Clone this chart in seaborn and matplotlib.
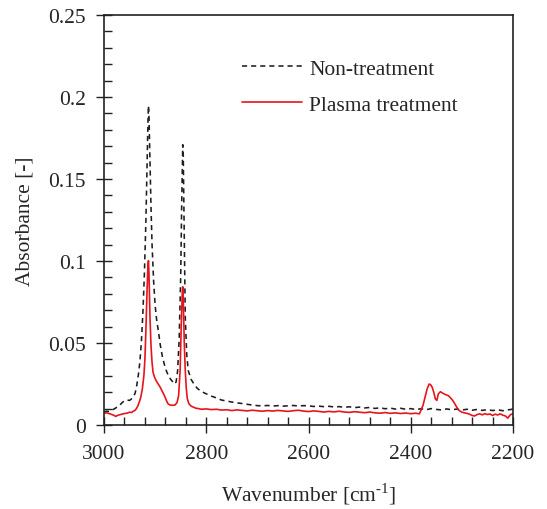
import numpy as np
import pandas as pd
import matplotlib
matplotlib.use('Agg')
import matplotlib.pyplot as plt
import seaborn as sns
from matplotlib.ticker import MultipleLocator, FixedLocator

# spectra (wavenumber in cm-1, absorbance)
wn_non = [3000, 2995, 2990, 2985, 2980, 2975, 2970, 2965, 2960, 2955, 2950, 2946, 2942,
          2939, 2936, 2933, 2930, 2927, 2924, 2921, 2918, 2916, 2914, 2913, 2912, 2910,
          2908, 2906, 2903, 2900, 2897, 2894, 2890, 2886, 2882, 2878, 2874, 2870, 2866,
          2862, 2859, 2856, 2853, 2850, 2848, 2846, 2845, 2843, 2841, 2838, 2835, 2830,
          2825, 2818, 2810, 2800, 2790, 2780, 2770, 2760, 2750, 2740, 2730, 2720, 2710,
          2700, 2690, 2680, 2670, 2660, 2650, 2640, 2630, 2620, 2610, 2600, 2590, 2580,
          2570, 2560, 2550, 2540, 2530, 2520, 2510, 2500, 2490, 2480, 2470, 2460, 2450,
          2440, 2430, 2420, 2410, 2400, 2390, 2380, 2370, 2360, 2350, 2340, 2330, 2320,
          2310, 2300, 2290, 2280, 2270, 2260, 2250, 2240, 2230, 2220, 2210, 2200]
abs_non = [0.0080, 0.0084, 0.0082, 0.0090, 0.0098, 0.0108, 0.0118, 0.0135, 0.0148, 0.0152,
           0.0150, 0.0160, 0.0175, 0.0195, 0.0240, 0.0300, 0.0380, 0.0500, 0.0680, 0.0920,
           0.1250, 0.1550, 0.1850, 0.1947, 0.1880, 0.1600, 0.1320, 0.1100, 0.0880, 0.0730,
           0.0640, 0.0580, 0.0490, 0.0420, 0.0370, 0.0330, 0.0300, 0.0280, 0.0265, 0.0250,
           0.0262, 0.0330, 0.0520, 0.0900, 0.1350, 0.1709, 0.1650, 0.1150, 0.0650, 0.0420,
           0.0330, 0.0280, 0.0255, 0.0225, 0.0205, 0.0190, 0.0176, 0.0165, 0.0152, 0.0146,
           0.0140, 0.0135, 0.0131, 0.0126, 0.0122, 0.0118, 0.0117, 0.0119, 0.0116, 0.0118,
           0.0115, 0.0117, 0.0119, 0.0116, 0.0118, 0.0117, 0.0113, 0.0115, 0.0112, 0.0114,
           0.0110, 0.0112, 0.0108, 0.0111, 0.0106, 0.0109, 0.0104, 0.0107, 0.0101, 0.0105,
           0.0099, 0.0103, 0.0097, 0.0102, 0.0096, 0.0100, 0.0094, 0.0099, 0.0093, 0.0100,
           0.0095, 0.0092, 0.0098, 0.0093, 0.0097, 0.0091, 0.0096, 0.0090, 0.0095, 0.0089,
           0.0094, 0.0088, 0.0093, 0.0087, 0.0092, 0.0097]

wn_plasma = [3000, 2995, 2990, 2985, 2980, 2977, 2974, 2970, 2965, 2960, 2955, 2950, 2946,
             2943, 2940, 2937, 2934, 2931, 2928, 2925, 2922, 2920, 2918, 2916, 2914, 2913,
             2912, 2910, 2908, 2906, 2904, 2901, 2898, 2894, 2890, 2886, 2882, 2878, 2875,
             2871, 2866, 2861, 2857, 2854, 2851, 2849, 2847, 2846, 2845, 2843, 2841, 2839,
             2837, 2834, 2830, 2826, 2820, 2815, 2810, 2800, 2790, 2780, 2770, 2760, 2750,
             2740, 2730, 2720, 2710, 2700, 2690, 2680, 2670, 2660, 2650, 2640, 2630, 2620,
             2610, 2600, 2590, 2580, 2570, 2560, 2550, 2540, 2530, 2520, 2510, 2500, 2490,
             2480, 2470, 2460, 2450, 2440, 2430, 2420, 2410, 2400, 2390, 2383, 2376, 2372,
             2368, 2364, 2361, 2358, 2355, 2352, 2349, 2346, 2342, 2338, 2334, 2330, 2326,
             2322, 2318, 2314, 2310, 2306, 2300, 2295, 2290, 2285, 2280, 2275, 2270, 2265,
             2260, 2255, 2250, 2245, 2240, 2235, 2230, 2225, 2220, 2215, 2210, 2206, 2203,
             2200]
abs_plasma = [0.0072, 0.0074, 0.0070, 0.0064, 0.0058, 0.0052, 0.0058, 0.0062, 0.0066, 0.0070,
              0.0072, 0.0078, 0.0076, 0.0084, 0.0088, 0.0098, 0.0115, 0.0140, 0.0170, 0.0220,
              0.0300, 0.0400, 0.0580, 0.0800, 0.0980, 0.1002, 0.0920, 0.0650, 0.0480, 0.0380,
              0.0320, 0.0290, 0.0270, 0.0250, 0.0230, 0.0205, 0.0180, 0.0150, 0.0130, 0.0122,
              0.0120, 0.0122, 0.0138, 0.0180, 0.0340, 0.0600, 0.0800, 0.0843, 0.0780, 0.0500,
              0.0330, 0.0220, 0.0160, 0.0130, 0.0116, 0.0110, 0.0102, 0.0100, 0.0096, 0.0098,
              0.0094, 0.0096, 0.0091, 0.0093, 0.0088, 0.0092, 0.0089, 0.0086, 0.0090, 0.0087,
              0.0084, 0.0088, 0.0085, 0.0089, 0.0086, 0.0083, 0.0087, 0.0090, 0.0085, 0.0082,
              0.0086, 0.0083, 0.0079, 0.0083, 0.0080, 0.0084, 0.0079, 0.0077, 0.0081, 0.0078,
              0.0075, 0.0079, 0.0074, 0.0072, 0.0076, 0.0071, 0.0074, 0.0070, 0.0073, 0.0069,
              0.0072, 0.0068, 0.0120, 0.0170, 0.0220, 0.0250, 0.0245, 0.0230, 0.0200, 0.0160,
              0.0150, 0.0190, 0.0203, 0.0195, 0.0188, 0.0183, 0.0178, 0.0165, 0.0150, 0.0130,
              0.0108, 0.0090, 0.0078, 0.0074, 0.0071, 0.0066, 0.0058, 0.0055, 0.0064, 0.0068,
              0.0062, 0.0069, 0.0064, 0.0067, 0.0058, 0.0066, 0.0061, 0.0068, 0.0060, 0.0055,
              0.0042, 0.0060, 0.0066, 0.0068]

x_ticks = [3000, 2800, 2600, 2400, 2200]
y_ticks = [0, 0.05, 0.1, 0.15, 0.2, 0.25]
y_tick_labels = ['0', '0.05', '0.1', '0.15', '0.2', '0.25']

sns.set_style('white')
plt.rcParams['font.family'] = ['Liberation Serif', 'DejaVu Serif']
plt.rcParams['mathtext.fontset'] = 'custom'
plt.rcParams['mathtext.rm'] = 'Liberation Serif'
plt.rcParams['font.size'] = 15.5

fig = plt.figure(figsize=(5.47, 5.10), dpi=100)
ax = fig.add_axes([104 / 547, 84 / 510, 409 / 547, 410 / 510])

sns.lineplot(x=wn_non, y=abs_non, ax=ax, color='#1e1e1e', lw=1.15, sort=False,
             estimator=None, label='Non-treatment')
ax.lines[-1].set_dashes((3.2, 2.5))
sns.lineplot(x=wn_plasma, y=abs_plasma, ax=ax, color='#e8141c', lw=1.2, sort=False,
             estimator=None, label='Plasma treatment')

ax.set_xlim(3000, 2200)
ax.set_ylim(0, 0.25)
ax.xaxis.set_major_locator(FixedLocator(x_ticks))
ax.xaxis.set_minor_locator(MultipleLocator(40))
ax.yaxis.set_major_locator(FixedLocator(y_ticks))
ax.set_yticklabels(y_tick_labels)
ax.yaxis.set_minor_locator(MultipleLocator(0.01))

ax.tick_params(which='major', direction='inout', length=12, width=1, color='#222222',
               labelsize=15.5, bottom=True, left=True)
ax.tick_params(axis='x', which='major', pad=8)
ax.tick_params(axis='y', which='major', pad=7)
ax.tick_params(which='minor', direction='in', length=6, width=1, color='#222222',
               bottom=True, left=True)
for s in ax.spines.values():
    s.set_color('#222222')
    s.set_linewidth(1.2)

ax.set_xlabel('Wavenumber [cm$^{\\mathregular{\u2010}\\mathregular{1}}$]', fontsize=15.5, labelpad=12)
ax.set_ylabel('Absorbance [-]', fontsize=15.5, labelpad=10)

leg = ax.legend(loc='upper left', bbox_to_anchor=(0.31, 0.92), frameon=False,
                handlelength=2.8, handletextpad=0.35, labelspacing=0.75, fontsize=15.5,
                borderpad=0)

fig.savefig('out.png', dpi=100)
